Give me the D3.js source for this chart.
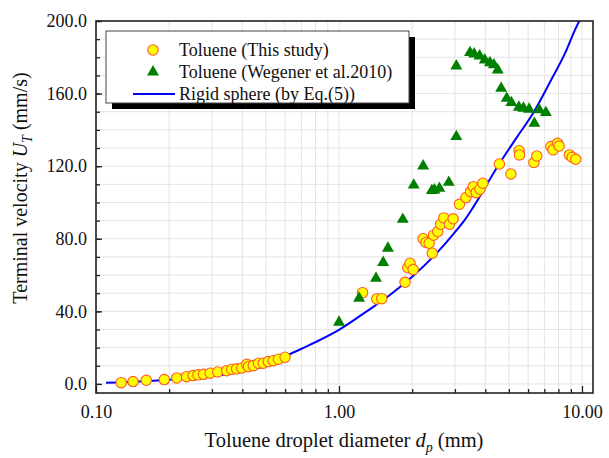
<!DOCTYPE html>
<html>
  <head>
    <meta charset="utf-8">
    <title>Terminal velocity vs droplet diameter</title>
    <script src="https://d3js.org/d3.v7.min.js"></script>
    <style>
body { margin: 0; background: #fff; }
text { font-family: "Liberation Serif", "Times New Roman", serif; fill: #111; }
    </style>
  </head>
  <body>
<script>
// Toluene (This study)
var studyD = [0.127, 0.142, 0.161, 0.191, 0.215, 0.236, 0.251, 0.263, 0.277, 0.295,
              0.317, 0.345, 0.362, 0.379, 0.398, 0.417, 0.424, 0.444, 0.466, 0.488,
              0.512, 0.536, 0.563, 0.60,
              1.25, 1.43, 1.50, 1.87, 1.92, 1.96, 2.02, 2.22, 2.28, 2.35, 2.42, 2.45,
              2.55, 2.62, 2.70, 2.85, 2.95, 3.13, 3.33, 3.48, 3.57, 3.67, 3.80, 3.91,
              4.57, 5.10, 5.51, 5.53, 6.34, 6.52, 7.45, 7.60, 7.93, 8.05, 8.87, 9.11, 9.43];
var studyV = [0.7, 1.3, 2.0, 2.4, 3.3, 4.0, 4.6, 5.0, 5.3, 5.9,
              6.6, 7.3, 8.1, 8.3, 8.8, 10.8, 9.5, 10.1, 11.4, 11.4,
              12.3, 12.8, 13.6, 14.7,
              50.3, 46.8, 47.0, 56.0, 64.0, 66.5, 63.0, 80.0, 78.0, 77.5, 72.0, 82.0,
              84.0, 88.0, 91.5, 88.0, 91.0, 99.0, 102.7, 106.0, 108.7, 105.4, 107.3, 110.6,
              121.2, 115.7, 128.5, 126.2, 122.0, 125.6, 130.8, 129.0, 132.6, 131.1, 126.2, 124.9, 123.8];

// Toluene (Wegener et al.2010)
var wegenerD = [1.00, 1.21, 1.42, 1.52, 1.59, 1.83, 2.03, 2.22, 2.41, 2.47, 2.59, 2.83,
                3.04, 3.04, 3.46, 3.60, 3.79, 3.98, 4.18, 4.34, 4.50, 4.65, 4.90,
                5.12, 5.50, 5.74, 6.06, 6.37, 6.67, 7.10];
var wegenerV = [34.0, 47.2, 58.2, 66.9, 74.8, 90.7, 109.6, 120.1, 106.5, 106.9, 107.8, 111.1,
                136.3, 175.2, 182.6, 181.8, 180.7, 178.5, 177.0, 175.8, 173.0, 162.9, 157.4,
                155.0, 152.5, 151.9, 151.4, 143.6, 151.0, 149.5];

// Rigid sphere (by Eq.(5))
var sphereD = [0.11, 0.15, 0.2, 0.3, 0.4, 0.5, 0.63, 0.8, 1.0, 1.3, 1.62, 2.0, 2.5,
               3.06, 3.3, 3.58, 4.6, 5.4, 6.28, 7.5, 8.5, 9.35, 10.0];
var sphereV = [0.6, 1.3, 2.3, 4.2, 6.8, 10.0, 16.5, 23.0, 29.8, 40.0, 49.0, 59.0, 71.5,
               85.0, 90.5, 97.7, 122.0, 136.0, 149.0, 168.0, 182.0, 195.0, 203.0];

var xMajor = [0.1, 1, 10];
var xMinor = [0.2, 0.3, 0.4, 0.5, 0.6, 0.7, 0.8, 0.9, 2, 3, 4, 5, 6, 7, 8, 9];
var yMajor = [0, 40, 80, 120, 160, 200];
var yMinor = d3.range(0, 201, 10);

var legendNames = ["Toluene (This study)", "Toluene (Wegener et al.2010)", "Rigid sphere (by Eq.(5))"];

var width = 609,
    height = 458,
    plotL = 96, plotR = 593, plotT = 21, plotB = 393,
    dotR = 5.2;

var x = d3.scaleLog().domain([0.1, 11.1]).range([plotL, plotR]);
var y = d3.scaleLinear().domain([-5, 200]).range([plotB, plotT]);

var svg = d3.select("body").append("svg")
  .attr("width", width)
  .attr("height", height);

svg.append("defs").append("clipPath")
    .attr("id", "plot-clip")
  .append("rect")
    .attr("x", plotL).attr("y", plotT)
    .attr("width", plotR - plotL).attr("height", plotB - plotT);

// grid
var grid = svg.append("g").attr("stroke", "#e3e3e3").attr("stroke-width", 1);
grid.selectAll(".gx").data(xMajor.concat(xMinor)).enter().append("line")
  .attr("x1", function(d) { return x(d); })
  .attr("x2", function(d) { return x(d); })
  .attr("y1", plotT).attr("y2", plotB);
grid.selectAll(".gy").data(yMinor).enter().append("line")
  .attr("x1", plotL).attr("x2", plotR)
  .attr("y1", function(d) { return y(d); })
  .attr("y2", function(d) { return y(d); });

// axes, ticks pointing inward
svg.append("g")
  .attr("transform", "translate(" + plotL + ",0)")
  .call(d3.axisLeft(y).tickValues(yMajor).tickSize(-6).tickPadding(9)
    .tickFormat(d3.format(".1f")));
svg.append("g")
  .attr("transform", "translate(" + plotL + ",0)")
  .call(d3.axisLeft(y).tickValues(yMinor).tickSize(-4).tickFormat(""));

svg.append("g")
  .attr("transform", "translate(0," + plotB + ")")
  .call(d3.axisBottom(x).tickValues(xMajor).tickSize(-7).tickPadding(12)
    .tickFormat(d3.format(".2f")));
svg.append("g")
  .attr("transform", "translate(0," + plotB + ")")
  .call(d3.axisBottom(x).tickValues(xMinor).tickSize(-4).tickFormat(""));

svg.selectAll(".domain").remove();
svg.selectAll(".tick line").attr("stroke", "#222").attr("stroke-width", 1.3);
svg.selectAll(".tick text")
  .style("font-family", "'Liberation Serif', serif")
  .style("font-size", "18px")
  .attr("fill", "#111");

// curve
var plot = svg.append("g").attr("clip-path", "url(#plot-clip)");
var line = d3.line()
  .x(function(d) { return x(d[0]); })
  .y(function(d) { return y(d[1]); })
  .curve(d3.curveMonotoneX);
plot.append("path")
  .datum(d3.zip(sphereD, sphereV))
  .attr("d", line)
  .attr("fill", "none")
  .attr("stroke", "#0000ff")
  .attr("stroke-width", 2);

// study points
plot.selectAll(".study").data(d3.zip(studyD, studyV)).enter().append("circle")
  .attr("cx", function(d) { return x(d[0]); })
  .attr("cy", function(d) { return y(d[1]); })
  .attr("r", dotR)
  .attr("fill", "#ffff00")
  .attr("stroke", "#ff5a28")
  .attr("stroke-width", 1.1);

// Wegener points
var tri = d3.symbol().type(d3.symbolTriangle).size(62);
plot.selectAll(".weg").data(d3.zip(wegenerD, wegenerV)).enter().append("path")
  .attr("d", tri)
  .attr("transform", function(d) { return "translate(" + x(d[0]) + "," + y(d[1]) + ")"; })
  .attr("fill", "#008000");

// frame
svg.append("rect")
  .attr("x", plotL).attr("y", plotT)
  .attr("width", plotR - plotL).attr("height", plotB - plotT)
  .attr("fill", "none")
  .attr("stroke", "#222")
  .attr("stroke-width", 1.6);

// legend
var lg = svg.append("g");
lg.append("rect")
  .attr("x", 112).attr("y", 37).attr("width", 303).attr("height", 72)
  .attr("fill", "#000");
lg.append("rect")
  .attr("x", 106).attr("y", 31).attr("width", 303).attr("height", 72)
  .attr("fill", "#fff").attr("stroke", "#444").attr("stroke-width", 1);

var rowY = [50, 72, 94];
lg.append("circle")
  .attr("cx", 153).attr("cy", rowY[0]).attr("r", dotR)
  .attr("fill", "#ffff00").attr("stroke", "#ff5a28").attr("stroke-width", 1.1);
lg.append("path")
  .attr("d", tri)
  .attr("transform", "translate(153," + rowY[1] + ")")
  .attr("fill", "#008000");
lg.append("line")
  .attr("x1", 133).attr("x2", 175)
  .attr("y1", rowY[2]).attr("y2", rowY[2])
  .attr("stroke", "#0000ff").attr("stroke-width", 2);

lg.selectAll(".lt").data(legendNames).enter().append("text")
  .attr("x", 179)
  .attr("y", function(d, i) { return rowY[i] + 6; })
  .style("font-size", "18px")
  .text(function(d) { return d; });

// axis titles
var xt = svg.append("text")
  .attr("x", 344).attr("y", 447)
  .attr("text-anchor", "middle")
  .style("font-size", "20.5px");
xt.append("tspan").text("Toluene droplet diameter ");
xt.append("tspan").style("font-style", "italic").text("d");
xt.append("tspan").attr("dy", 5).style("font-size", "14px").style("font-style", "italic").text("p");
xt.append("tspan").attr("dy", -5).text(" (mm)");

var yt = svg.append("text")
  .attr("transform", "translate(27,188) rotate(-90)")
  .attr("text-anchor", "middle")
  .style("font-size", "20px");
yt.append("tspan").text("Terminal velocity ");
yt.append("tspan").style("font-style", "italic").text("U");
yt.append("tspan").attr("dy", 5).style("font-size", "14px").style("font-style", "italic").text("T");
yt.append("tspan").attr("dy", -5).text(" (mm/s)");
</script>
  </body>
</html>
